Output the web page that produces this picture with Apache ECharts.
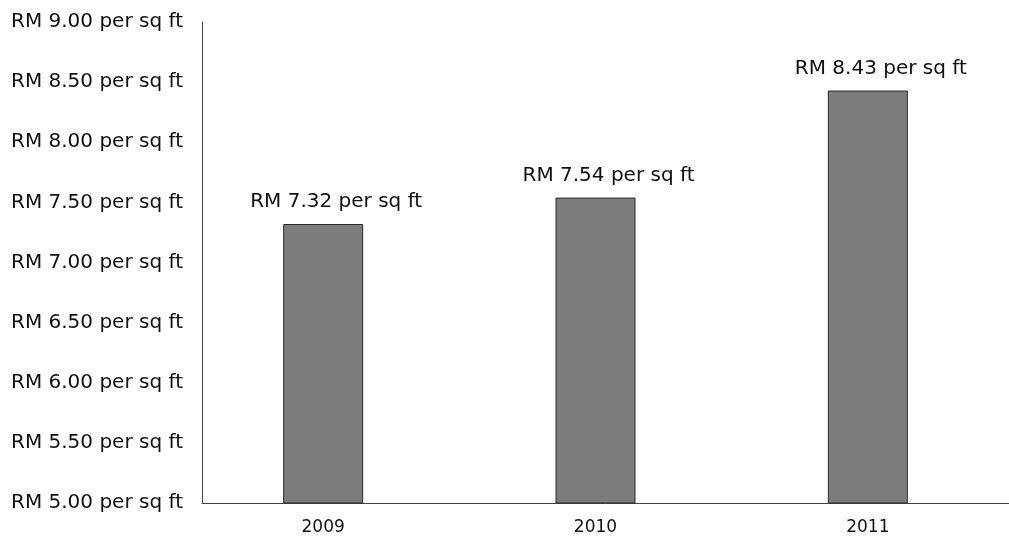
<!DOCTYPE html>
<html><head><meta charset="utf-8">
<script src="https://cdn.jsdelivr.net/npm/echarts@6/dist/echarts.min.js"></script>
<style>html,body{margin:0;padding:0;background:#fff}#c{width:1009px;height:544px}</style>
</head><body><div id="c"></div>
<script>
var years = ['2009', '2010', '2011'];
var rates = [7.32, 7.54, 8.43];
var yTicks = [5.0, 5.5, 6.0, 6.5, 7.0, 7.5, 8.0, 8.5, 9.0];

var FONT = 'DejaVu Sans';
var chart = echarts.init(document.getElementById('c'));
chart.setOption({
  animation: false,
  backgroundColor: '#ffffff',
  grid: [
    {left: 187, right: 5, top: 22, bottom: 41},
    {left: 202, right: 0, top: 22, bottom: 41}
  ],
  xAxis: [
    {type: 'category', gridIndex: 0, data: years,
     axisLine: {show: false}, axisTick: {show: false},
     axisLabel: {color: '#111', fontFamily: FONT, fontSize: 17, margin: 16}},
    {type: 'value', gridIndex: 1, min: 0, max: 1,
     axisLine: {show: true, lineStyle: {color: '#444', width: 1}},
     axisTick: {show: false}, axisLabel: {show: false}, splitLine: {show: false}}
  ],
  yAxis: [
    {type: 'value', gridIndex: 0, min: yTicks[0], max: yTicks[yTicks.length - 1], interval: 0.5,
     offset: -15,
     axisLine: {show: true, lineStyle: {color: '#444', width: 1}},
     axisTick: {show: false}, splitLine: {show: false},
     axisLabel: {color: '#111', fontFamily: FONT, fontSize: 20, margin: 19,
       formatter: function (v) { return 'RM ' + v.toFixed(2) + ' per sq ft'; }}},
    {type: 'value', gridIndex: 1, show: false, min: 0, max: 1}
  ],
  series: [{
    type: 'bar', xAxisIndex: 0, yAxisIndex: 0,
    data: rates, barWidth: 80,
    itemStyle: {color: '#7c7c7c', borderColor: '#2a2a2a', borderWidth: 1},
    label: {show: true, position: 'top', distance: 12, offset: [13, 0],
      color: '#111', fontFamily: FONT, fontSize: 20,
      formatter: function (p) { return 'RM ' + p.value.toFixed(2) + ' per sq ft'; }}
  }]
});
</script></body></html>
